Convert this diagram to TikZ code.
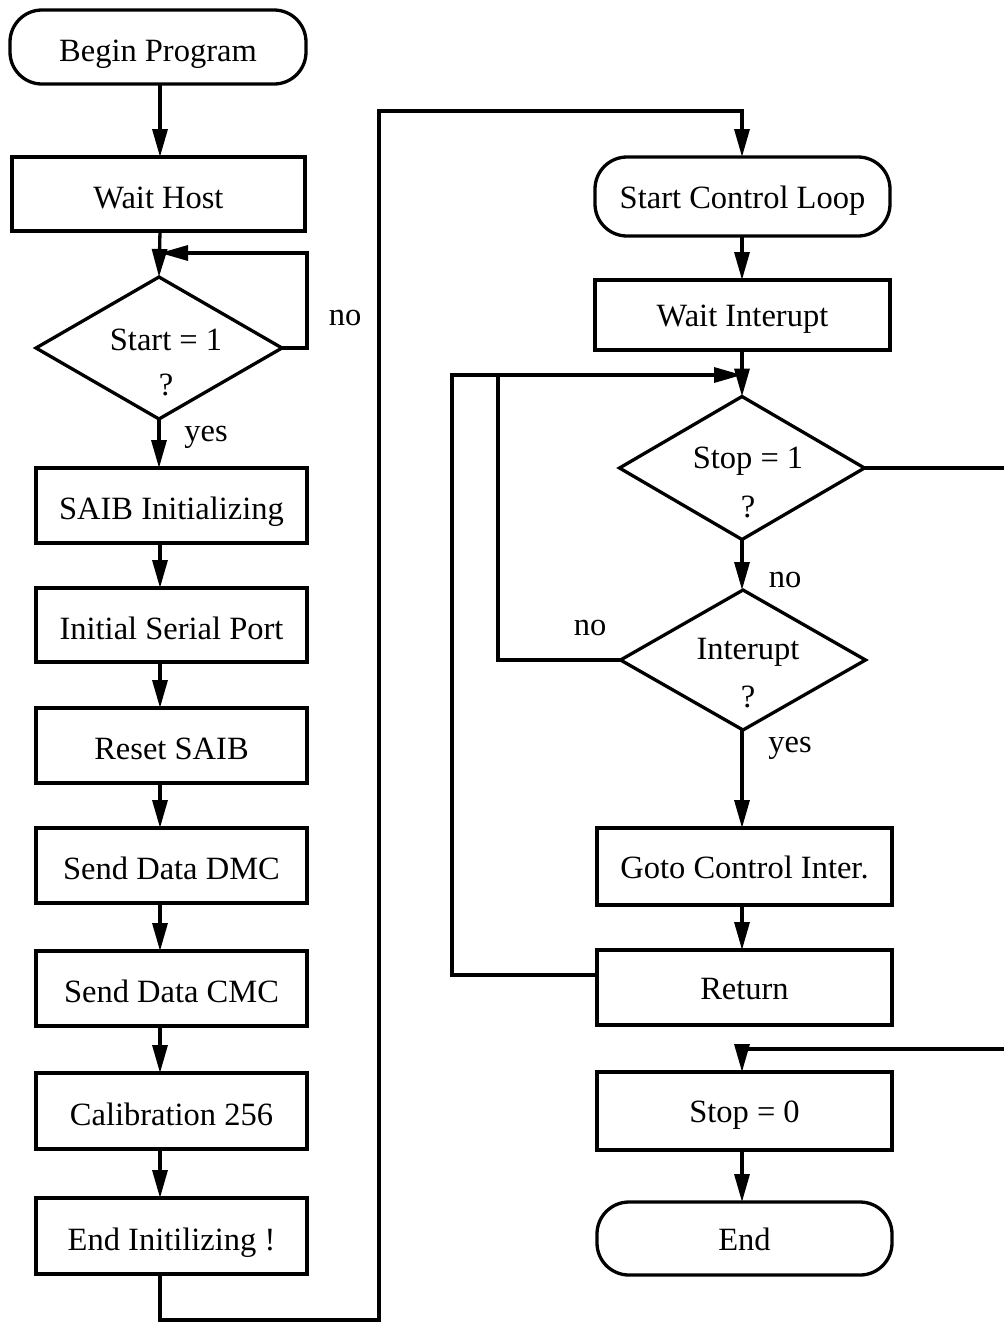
\documentclass[tikz,border=0pt]{standalone}
\usepackage{fontspec}
\setmainfont{Liberation Serif}
\usetikzlibrary{shapes.geometric,arrows.meta}

\begin{document}
\begin{tikzpicture}[x=1pt,y=-1pt,
  font=\fontsize{32.5}{38}\selectfont,
  line width=3.3pt,
  arr/.style={-{Triangle[length=28pt,width=15pt]}},
  procbox/.style={draw,rectangle,inner sep=0pt,outer sep=0pt,minimum height=75pt},
  termbox/.style={draw,rectangle,rounded corners=32pt,inner sep=0pt,outer sep=0pt},
  decbox/.style={draw,diamond,inner sep=0pt,outer sep=0pt},
  lowtext/.style={text height=28pt,text depth=0pt},
  midtext/.style={text height=23pt,text depth=0pt},
  lbl/.style={inner sep=0pt}]

\useasboundingbox (0,0) rectangle (1004,1323);
\clip (0,0) rectangle (1004,1323);

% arrow columns
\coordinate (lc) at (160,0);
\coordinate (rc) at (742,0);

% ---------- initialisation column ----------
\node[termbox,lowtext,minimum width=296pt,minimum height=74pt] (begin) at (158,47) {Begin Program};
\node[procbox,lowtext,minimum width=293pt,minimum height=74pt] (waithost) at (158.5,194) {Wait Host};
\node[decbox,minimum width=246pt,minimum height=142pt] (start) at (159,348) {};
\node[lbl] (startT) at (166,340) {Start = 1};
\node[lbl] (startQ) at (166,385) {?};

\node[procbox,lowtext,minimum width=271pt] (saib)    at (171.5,505.5) {SAIB Initializing};
\node[procbox,lowtext,minimum width=271pt,minimum height=74pt] (isp) at (171.5,625) {Initial Serial Port};
\node[procbox,lowtext,minimum width=271pt] (reset)   at (171.5,745.5) {Reset SAIB};
\node[procbox,lowtext,minimum width=271pt] (dmc)     at (171.5,865.5) {Send Data DMC};
\node[procbox,lowtext,minimum width=271pt] (cmc)     at (171.5,988.5) {Send Data CMC};
\node[procbox,lowtext,minimum width=271pt,minimum height=76pt] (cal) at (171.5,1111) {Calibration 256};
\node[procbox,lowtext,minimum width=271pt,minimum height=76pt] (endinit) at (171.5,1236) {End Initilizing !};

\node[lbl] (noA)  at (345,318) {no};
\node[lbl] (yesA) at (206,437) {yes};

% ---------- control loop column ----------
\node[termbox,midtext,minimum width=295pt,minimum height=79pt] (scl) at (742.5,196.5) {Start Control Loop};
\node[procbox,midtext,minimum width=295pt,minimum height=70pt] (waitint) at (742.5,315) {Wait Interupt};
\node[decbox,minimum width=245pt,minimum height=143pt] (stop) at (742,468) {};
\node[lbl] (stopT) at (748,461) {Stop = 1};
\node[lbl] (stopQ) at (748,507) {?};
\node[decbox,minimum width=245pt,minimum height=140pt] (intr) at (743,660) {};
\node[lbl] (intrT) at (748,652) {Interupt};
\node[lbl] (intrQ) at (748,697) {?};

\node[procbox,midtext,minimum width=295pt,minimum height=77pt] (goto) at (744.5,866.5) {Goto Control Inter.};
\node[procbox,midtext,minimum width=295pt] (ret) at (744.5,987.5) {Return};
\node[procbox,midtext,minimum width=295pt,minimum height=78pt] (stopzero) at (744.5,1111) {Stop = 0};
\node[termbox,midtext,minimum width=295pt,minimum height=73pt] (endn) at (744.5,1238.5) {End};

\node[lbl] (noB)  at (785,580) {no};
\node[lbl] (noC)  at (590,628) {no};
\node[lbl] (yesB) at (790,748) {yes};

% junction points
\coordinate (jA) at (160,253);
\coordinate (cornerA) at (379,1320);
\coordinate (cornerB) at (379,111);
\coordinate (jB) at (742,375);
\coordinate (jC) at (498,375);
\coordinate (offr) at (1025,1049);

% ---------- connectors: initialisation ----------
\draw[arr] (begin.south -| lc) -- (waithost.north -| lc);
\draw[arr] (waithost.south -| lc) -- (start.north);
\draw[arr] (start.east) -- ++(25,0) |- (jA);
\draw[arr] (start.south) -- (start.south |- saib.north);
\draw[arr] (saib.south -| lc) -- (isp.north -| lc);
\draw[arr] (isp.south -| lc) -- (reset.north -| lc);
\draw[arr] (reset.south -| lc) -- (dmc.north -| lc);
\draw[arr] (dmc.south -| lc) -- (cmc.north -| lc);
\draw[arr] (cmc.south -| lc) -- (cal.north -| lc);
\draw[arr] (cal.south -| lc) -- (endinit.north -| lc);
\draw[arr] (endinit.south -| lc) |- (cornerA) -- (cornerB) -| (scl.north -| rc);

% ---------- connectors: control loop ----------
\draw[arr] (scl.south -| rc) -- (waitint.north -| rc);
\draw[arr] (waitint.south -| rc) -- (stop.north);
\draw[arr] (stop.south) -- (intr.north -| rc);
\draw (intr.west) -| (jC);
\draw[arr] (intr.south -| rc) -- (goto.north -| rc);
\draw[arr] (goto.south -| rc) -- (ret.north -| rc);
\draw[arr] ([yshift=-25pt]ret.north west) -- ++(-145,0) |- (jB);
\draw[arr] (stop.east) -| (offr) -| (stopzero.north -| rc);
\draw[arr] (stopzero.south -| rc) -- (endn.north -| rc);

\end{tikzpicture}
\end{document}
